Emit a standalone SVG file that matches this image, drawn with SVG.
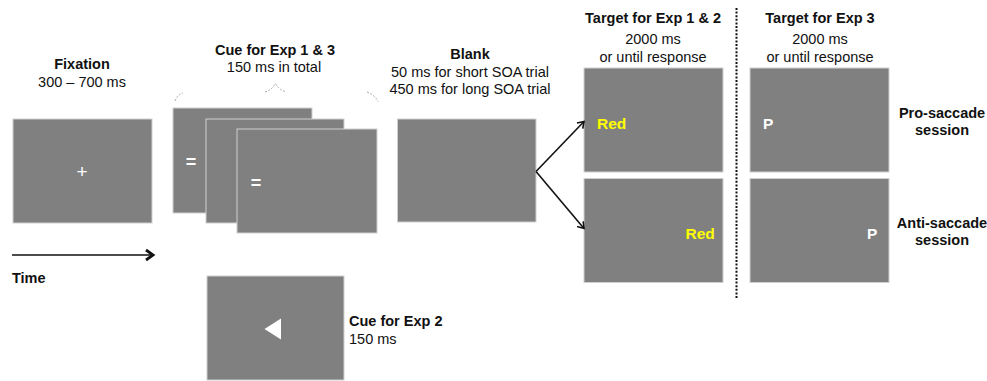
<svg xmlns="http://www.w3.org/2000/svg" width="987" height="381" viewBox="0 0 987 381">
<defs>
<style>
.scr{fill:#808080;stroke:#d0d0d0;stroke-width:1}
.t{font-family:"Liberation Sans",Arial,sans-serif;font-size:14.5px;fill:#111}
.b{font-weight:bold}
.m{text-anchor:middle}
.w{fill:#fff;font-family:"Liberation Sans",Arial,sans-serif;font-weight:bold}
.y{fill:#ffff00;font-family:"Liberation Sans",Arial,sans-serif;font-weight:bold;font-size:15.5px}
.conn{stroke:#111;stroke-width:1.6;fill:none}
.faint{stroke:#aaa;stroke-width:1;fill:none;stroke-dasharray:2 1.5}
</style>
<marker id="ah" markerWidth="10" markerHeight="10" refX="8" refY="5" orient="auto" markerUnits="userSpaceOnUse">
<path d="M2,1 L8,5 L2,9" fill="none" stroke="#111" stroke-width="1.6"/>
</marker>
<marker id="ahT" markerWidth="14" markerHeight="14" refX="11" refY="7" orient="auto" markerUnits="userSpaceOnUse">
<path d="M4,2 L11,7 L4,12" fill="none" stroke="#111" stroke-width="2.8"/>
</marker>
</defs>
<rect width="987" height="381" fill="#fff"/>

<g id="fixation">
<text class="t b m" x="82" y="68.5">Fixation</text>
<text class="t m" x="82" y="87">300 – 700 ms</text>
<rect class="scr" x="13" y="119" width="139" height="104"/>
<text x="82" y="178" font-size="19" text-anchor="middle" fill="#fff" font-family="Liberation Sans, Arial, sans-serif">+</text>
</g>

<g id="time">
<text class="t b" x="12" y="283" font-size="15">Time</text>
</g>

<g id="cue13">
<text class="t b m" x="275" y="55">Cue for Exp 1 &amp; 3</text>
<text class="t m" x="274" y="72">150 ms in total</text>
<path class="faint" d="M175,101 Q177,95 183,93"/>
<path class="faint" d="M265,92 Q272,90 275.5,83.5 Q279,90 286.5,92"/>
<path class="faint" d="M367,92 Q375,95 378,101.5"/>
<rect class="scr" x="173" y="108" width="139" height="105"/>
<text class="w" x="191" y="168" font-size="18" text-anchor="middle">=</text>
<rect class="scr" x="206" y="119" width="138" height="104"/>
<rect class="scr" x="237" y="129" width="140" height="104"/>
<text class="w" x="256" y="189" font-size="18" text-anchor="middle">=</text>
</g>

<g id="cue2">
<rect class="scr" x="207" y="276" width="137" height="104"/>
<polygon points="264.5,329 281,318.5 281,339.5" fill="#fff"/>
<text class="t b" x="349" y="326">Cue for Exp 2</text>
<text class="t" x="349" y="344">150 ms</text>
</g>

<g id="blank">
<text class="t b m" x="470" y="59">Blank</text>
<text class="t m" x="470" y="77">50 ms for short SOA trial</text>
<text class="t m" x="470" y="94">450 ms for long SOA trial</text>
<rect class="scr" x="397.5" y="119" width="138.5" height="103"/>
</g>

<g id="target12">
<text class="t b m" x="653" y="23">Target for Exp 1 &amp; 2</text>
<text class="t m" x="653" y="44">2000 ms</text>
<text class="t m" x="653" y="62">or until response</text>
<rect class="scr" x="584" y="68" width="139" height="104"/>
<text class="y" x="597" y="129">Red</text>
<rect class="scr" x="584" y="178.5" width="139" height="104"/>
<text class="y" x="685.5" y="239">Red</text>
</g>

<g id="target3">
<text class="t b m" x="820" y="23">Target for Exp 3</text>
<text class="t m" x="820" y="44">2000 ms</text>
<text class="t m" x="820" y="62">or until response</text>
<rect class="scr" x="750" y="68" width="139" height="104"/>
<text class="w" x="763" y="129" font-size="15.5">P</text>
<rect class="scr" x="750" y="178.5" width="139" height="104"/>
<text class="w" x="867" y="239" font-size="15.5">P</text>
<text class="t b m" x="942" y="118">Pro-saccade</text>
<text class="t b m" x="942" y="135">session</text>
<text class="t b m" x="942" y="228">Anti-saccade</text>
<text class="t b m" x="942" y="245">session</text>
</g>

<g id="connectors">
<line class="conn" x1="12" y1="255" x2="153" y2="255" stroke-width="2.2" marker-end="url(#ahT)"/>
<line class="conn" x1="536" y1="171.5" x2="584" y2="121.5" marker-end="url(#ah)"/>
<line class="conn" x1="536" y1="171.5" x2="584" y2="228.5" marker-end="url(#ah)"/>
<line x1="736.5" y1="8" x2="736.5" y2="298" stroke="#111" stroke-width="2" stroke-dasharray="2 1.6"/>
</g>
</svg>
